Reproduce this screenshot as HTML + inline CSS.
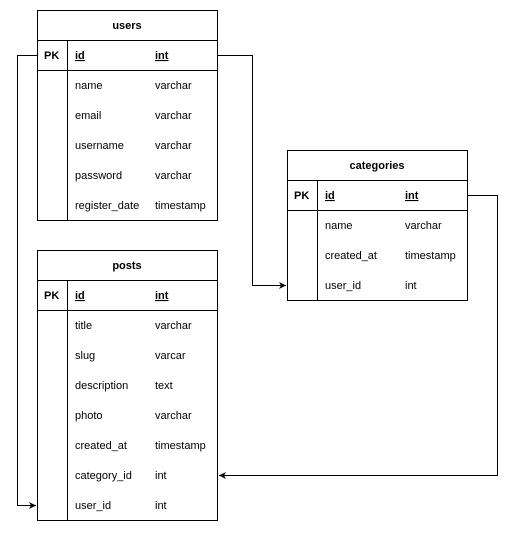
<!DOCTYPE html>
<html><head><meta charset="utf-8"><style>
html,body{margin:0;padding:0;background:#fff}
text{font-family:"Liberation Sans",Arial,sans-serif;font-size:11px;fill:#000}
.b{font-weight:bold}
</style></head><body>
<svg width="517" height="531" xmlns="http://www.w3.org/2000/svg">
<defs><marker id="a" markerWidth="8" markerHeight="8" refX="7" refY="4" orient="auto" markerUnits="userSpaceOnUse"><path d="M0,0.5 L7,4 L0,7.5 L2,4 Z" fill="#000"/></marker></defs>
<g fill="none" stroke="#000" stroke-width="1">
<!-- users -->
<rect x="37.5" y="10.5" width="180" height="210"/>
<line x1="37.5" y1="40.5" x2="217.5" y2="40.5"/>
<line x1="37.5" y1="70.5" x2="217.5" y2="70.5"/>
<line x1="67.5" y1="40.5" x2="67.5" y2="220.5"/>
<!-- posts -->
<rect x="37.5" y="250.5" width="180" height="270"/>
<line x1="37.5" y1="280.5" x2="217.5" y2="280.5"/>
<line x1="37.5" y1="310.5" x2="217.5" y2="310.5"/>
<line x1="67.5" y1="280.5" x2="67.5" y2="520.5"/>
<!-- categories -->
<rect x="287.5" y="150.5" width="180" height="150"/>
<line x1="287.5" y1="180.5" x2="467.5" y2="180.5"/>
<line x1="287.5" y1="210.5" x2="467.5" y2="210.5"/>
<line x1="317.5" y1="180.5" x2="317.5" y2="300.5"/>
<!-- connectors -->
<path d="M217.5,55.5 H252.5 V285.5 H286" marker-end="url(#a)"/>
<path d="M37.5,55.5 H17.5 V505.5 H36" marker-end="url(#a)"/>
<path d="M467.5,195.5 H497.5 V475.5 H219" marker-end="url(#a)"/>
</g>
<g>
<text class="b" x="127" y="29" text-anchor="middle">users</text>
<text class="b" x="44" y="59">PK</text>
<text class="b" x="75" y="59" text-decoration="underline">id</text>
<text class="b" x="155" y="59" text-decoration="underline">int</text>
<text x="75" y="89">name</text><text x="155" y="89">varchar</text>
<text x="75" y="119">email</text><text x="155" y="119">varchar</text>
<text x="75" y="149">username</text><text x="155" y="149">varchar</text>
<text x="75" y="179">password</text><text x="155" y="179">varchar</text>
<text x="75" y="209">register_date</text><text x="155" y="209">timestamp</text>

<text class="b" x="127" y="269" text-anchor="middle">posts</text>
<text class="b" x="44" y="299">PK</text>
<text class="b" x="75" y="299" text-decoration="underline">id</text>
<text class="b" x="155" y="299" text-decoration="underline">int</text>
<text x="75" y="329">title</text><text x="155" y="329">varchar</text>
<text x="75" y="359">slug</text><text x="155" y="359">varcar</text>
<text x="75" y="389">description</text><text x="155" y="389">text</text>
<text x="75" y="419">photo</text><text x="155" y="419">varchar</text>
<text x="75" y="449">created_at</text><text x="155" y="449">timestamp</text>
<text x="75" y="479">category_id</text><text x="155" y="479">int</text>
<text x="75" y="509">user_id</text><text x="155" y="509">int</text>

<text class="b" x="377" y="169" text-anchor="middle">categories</text>
<text class="b" x="294" y="199">PK</text>
<text class="b" x="325" y="199" text-decoration="underline">id</text>
<text class="b" x="405" y="199" text-decoration="underline">int</text>
<text x="325" y="229">name</text><text x="405" y="229">varchar</text>
<text x="325" y="259">created_at</text><text x="405" y="259">timestamp</text>
<text x="325" y="289">user_id</text><text x="405" y="289">int</text>
</g>
</svg>
</body></html>
